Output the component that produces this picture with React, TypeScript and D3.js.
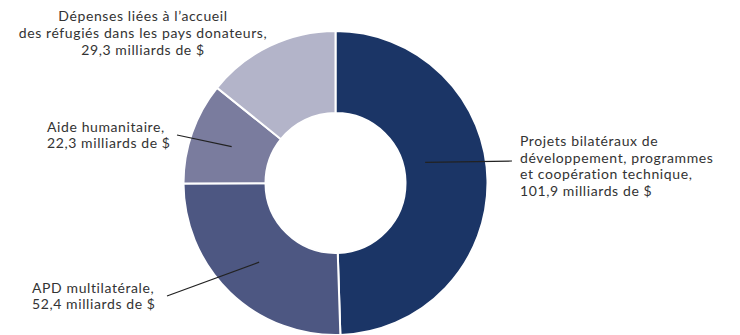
import { useEffect, useRef } from 'react';
import * as d3 from 'd3';

const categories = [
  'Projets bilatéraux',
  'APD multilatérale',
  'Aide humanitaire',
  'Réfugiés',
];
const values = [101.9, 52.4, 22.3, 29.3];
const colors = ['#1b3566', '#4d5782', '#7a7c9e', '#b3b4c9'];
const labelLines = [
  ['Projets bilatéraux de', 'développement, programmes', 'et coopération technique,', '101,9 milliards de $'],
  ['APD multilatérale,', '52,4 milliards de $'],
  ['Aide humanitaire,', '22,3 milliards de $'],
  ['Dépenses liées à l’accueil', 'des réfugiés dans les pays donateurs,', '29,3 milliards de $'],
];

export default function App() {
  const svgRef = useRef<SVGSVGElement>(null);

  useEffect(() => {
    if (!svgRef.current) return;
    const svg = d3.select(svgRef.current);
    svg.selectAll('*').remove();

    const width = 740;
    const height = 335;
    const cx = 335.5;
    const cy = 183;
    const outerR = 152;
    const innerR = 70;

    const data = categories.map((c, i) => ({ name: c, value: values[i], i }));
    const pie = d3.pie<typeof data[0]>().sort(null).value(d => d.value);
    const arcs = pie(data);
    const arc = d3.arc<d3.PieArcDatum<typeof data[0]>>().innerRadius(innerR).outerRadius(outerR);

    svg.attr('width', width).attr('height', height);
    const g = svg.append('g').attr('transform', `translate(${cx},${cy})`);

    g.selectAll('path.slice')
      .data(arcs)
      .join('path')
      .attr('class', 'slice')
      .attr('d', arc)
      .attr('fill', d => colors[d.data.i])
      .attr('stroke', '#fff')
      .attr('stroke-width', 2);

    // leader line: start point (angle offset, radius) inside slice, end point in page coords
    const leaders = [
      { da: -0.21, r: 92, end: [512, 161] },
      { da: 0, r: 110, end: [167, 296] },
      { da: 0, r: 110, end: [177, 135] },
    ];
    leaders.forEach((l, i) => {
      const a = arcs[i];
      const ang = (a.startAngle + a.endAngle) / 2 + l.da;
      const x0 = cx + l.r * Math.sin(ang);
      const y0 = cy - l.r * Math.cos(ang);
      svg.append('line')
        .attr('x1', x0).attr('y1', y0)
        .attr('x2', l.end[0]).attr('y2', l.end[1])
        .attr('stroke', '#222')
        .attr('stroke-width', 1.2);
    });

    const lineH = 16.8;
    // y = vertical centre of each label block
    const labelPos = [
      { x: 520, y: 166, anchor: 'start' },
      { x: 32, y: 296, anchor: 'start' },
      { x: 47, y: 135, anchor: 'start' },
      { x: 143, y: 33, anchor: 'middle' },
    ];
    labelLines.forEach((lines, i) => {
      const p = labelPos[i];
      const y0 = p.y - ((lines.length - 1) * lineH) / 2 + 5;
      const t = svg.append('text')
        .attr('x', p.x)
        .attr('y', y0)
        .attr('text-anchor', p.anchor)
        .attr('font-family', 'Lato, sans-serif')
        .attr('font-size', 14)
        .attr('letter-spacing', 0.6)
        .attr('fill', '#333');
      lines.forEach((ln, j) => {
        t.append('tspan').attr('x', p.x).attr('dy', j === 0 ? 0 : lineH).text(ln);
      });
    });
  }, []);

  return (
    <div style={{ position: 'absolute', left: 0, top: 0 }}>
      <svg ref={svgRef} />
    </div>
  );
}
